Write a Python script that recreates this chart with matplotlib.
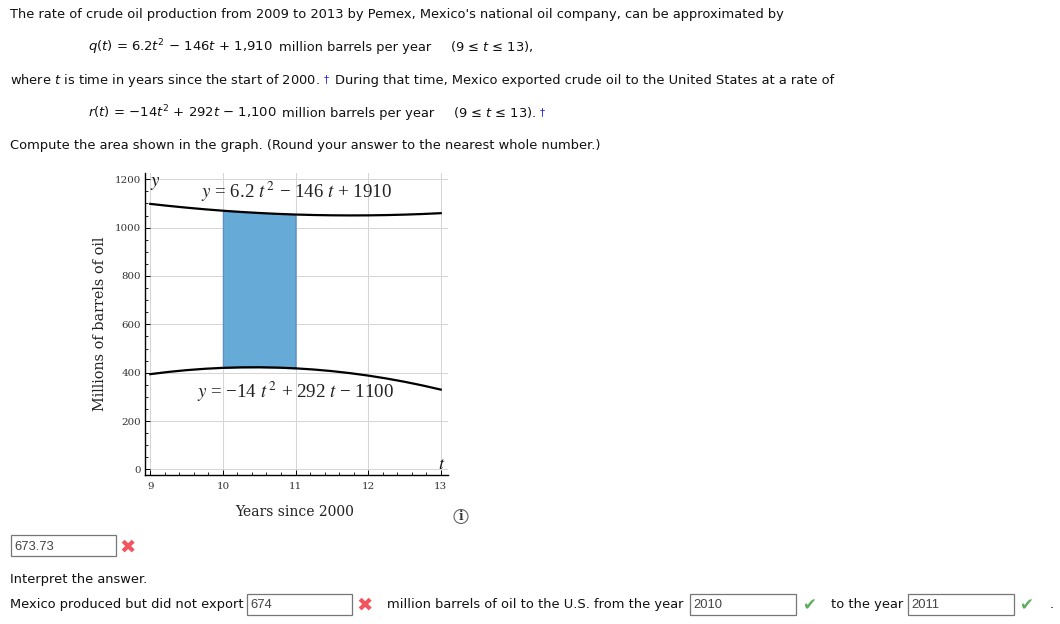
import matplotlib
matplotlib.use("Agg")
import matplotlib.pyplot as plt
from matplotlib.patches import Circle, Rectangle
import numpy as np

plt.rcParams["font.family"] = "DejaVu Sans"
plt.rcParams["mathtext.fontset"] = "dejavusans"

WIDTH, HEIGHT = 1060, 624

# Production and export rates, tabulated every quarter year
years = [9, 9.25, 9.5, 9.75, 10, 10.25, 10.5, 10.75, 11, 11.25, 11.5, 11.75,
         12, 12.25, 12.5, 12.75, 13]
production = [1098.2, 1090.0, 1082.6, 1075.9, 1070.0, 1064.9, 1060.6, 1057.0,
              1054.2, 1052.2, 1051.0, 1050.5, 1050.8, 1051.9, 1053.8, 1056.4, 1059.8]
exports = [394.0, 403.1, 410.5, 416.1, 420.0, 422.1, 422.5, 421.1, 418.0,
           413.1, 406.5, 398.1, 388.0, 376.1, 362.5, 347.1, 330.0]
shade_from, shade_to = 10, 11

x_ticks = [9, 10, 11, 12, 13]
y_ticks = [0, 200, 400, 600, 800, 1000, 1200]

TEXT_SIZE = 9.4
SERIF = "DejaVu Serif"

fig = plt.figure(figsize=(WIDTH / 100, HEIGHT / 100), dpi=100, facecolor="white")

# Graph
ax_left, ax_right, ax_top, ax_bottom = 144.5, 447.7, 173.0, 475.3
ax = fig.add_axes([ax_left / WIDTH, 1 - ax_bottom / HEIGHT,
                   (ax_right - ax_left) / WIDTH, (ax_bottom - ax_top) / HEIGHT])
ax.set_xlim(8.92, 13.096)
ax.set_ylim(-24.5, 1226)
t = np.array(years)
ax.fill_between(t, exports, production, where=(t >= shade_from) & (t <= shade_to),
                facecolor="#66aad7", edgecolor="#5b8fc2", linewidth=0.9, zorder=2)
ax.plot(years, production, color="black", linewidth=1.6, zorder=3)
ax.plot(years, exports, color="black", linewidth=1.6, zorder=3)
ax.set_xticks(x_ticks)
ax.set_yticks(y_ticks)
ax.set_xticks(np.arange(8.8, 13.1, 0.2)[1:], minor=True)
ax.set_yticks(np.arange(0, 1201, 50), minor=True)
ax.grid(True, which="major", color="#d6d6d6", linewidth=0.75, zorder=1)
ax.set_axisbelow(True)
for side in ("top", "right"):
    ax.spines[side].set_visible(False)
for side in ("left", "bottom"):
    ax.spines[side].set_linewidth(1.0)
ax.tick_params(which="major", direction="in", length=3.5, width=0.7, labelsize=7.4,
               labelcolor="#333333")
ax.tick_params(axis="y", which="major", pad=2.5)
ax.tick_params(axis="x", which="major", pad=4.5)
ax.tick_params(which="minor", direction="in", length=2.0, width=0.6)
for label in ax.get_xticklabels() + ax.get_yticklabels():
    label.set_family(SERIF)

# Everything else is placed in pixels on a transparent overlay
page = fig.add_axes([0, 0, 1, 1], facecolor="none")
page.set_xlim(0, WIDTH)
page.set_ylim(HEIGHT, 0)
page.axis("off")


def line(x, y, s, **kw):
    kw.setdefault("size", TEXT_SIZE)
    kw.setdefault("color", "#111111")
    kw.setdefault("va", "baseline")
    page.text(x, y, s, **kw)


def input_box(x0, x1, y0, y1, value):
    page.add_patch(Rectangle((x0, y0), x1 - x0, y1 - y0, facecolor="white",
                             edgecolor="#767676", linewidth=0.9))
    line(x0 + 3.5, y1 - 6, value, family="Liberation Sans", size=9.4, color="#444444")


line(10, 18, "The rate of crude oil production from 2009 to 2013 by Pemex, Mexico's national oil company, can be approximated by")
line(88, 51, r"$q(t)$ = 6.2$t^2$ − 146$t$ + 1,910", size=9.55)
line(279, 51, "million barrels per year")
line(450, 51, r"(9 ≤ $t$ ≤ 13),")
line(10, 84, r"where $t$ is time in years since the start of 2000.")
line(324, 82, "†", color="#2222ee", size=7.5)
line(335, 84, "During that time, Mexico exported crude oil to the United States at a rate of")
line(88, 117, r"$r(t)$ = −14$t^2$ + 292$t$ − 1,100", size=9.55)
line(282.5, 117, "million barrels per year")
line(453, 117, r"(9 ≤ $t$ ≤ 13).")
line(540, 115.5, "†", color="#2222ee", size=7.5)
line(10, 149, "Compute the area shown in the graph. (Round your answer to the nearest whole number.)")

# Graph labels
serif = {"family": SERIF, "color": "#222222"}
eq = {"family": "Liberation Serif", "color": "#222222", "math_fontfamily": "stix", "size": 13.6}
line(150, 186, r"$\mathit{y}$", size=13.6, family="Liberation Serif", math_fontfamily="stix")
line(201, 198, r"$\mathit{y}$ = 6.2 $\mathit{t}^{\,2}$ − 146 $\mathit{t}$ + 1910", **eq)
line(197, 398, r"$\mathit{y}$ = −14 $\mathit{t}^{\,2}$ + 292 $\mathit{t}$ − 1100", **eq)
line(438, 469, r"$\mathit{t}$", size=13, family="Liberation Serif", math_fontfamily="stix")
line(295, 516, "Years since 2000", size=10, ha="center", **serif)
line(100, 324, "Millions of barrels of oil", size=10.4, rotation=90, ha="center", va="center",
     rotation_mode="anchor", **serif)

# Info icon
page.add_patch(Circle((461, 516.5), 7, facecolor="white", edgecolor="#666666", linewidth=0.8))
line(461, 520, "i", size=8.5, ha="center", weight="bold", family=SERIF, color="#333333")

# Answer row and interpretation
input_box(10.8, 115.5, 535, 556, "673.73")
line(128, 552.5, "✖", color="#f2555d", size=14, ha="center")
line(10, 583, "Interpret the answer.")
line(10, 608, "Mexico produced but did not export")
input_box(247, 352, 594, 614.5, "674")
line(365, 610.5, "✖", color="#f2555d", size=14, ha="center")
line(387, 608, "million barrels of oil to the U.S. from the year")
input_box(690, 795.5, 594, 614.5, "2010")
line(809, 610, "✔", color="#5fae5f", size=12, ha="center")
line(831, 608, "to the year")
input_box(908, 1013.5, 594, 614.5, "2011")
line(1026, 610, "✔", color="#5fae5f", size=12, ha="center")
line(1050, 608, ".")

fig.savefig("out.png", dpi=100)
